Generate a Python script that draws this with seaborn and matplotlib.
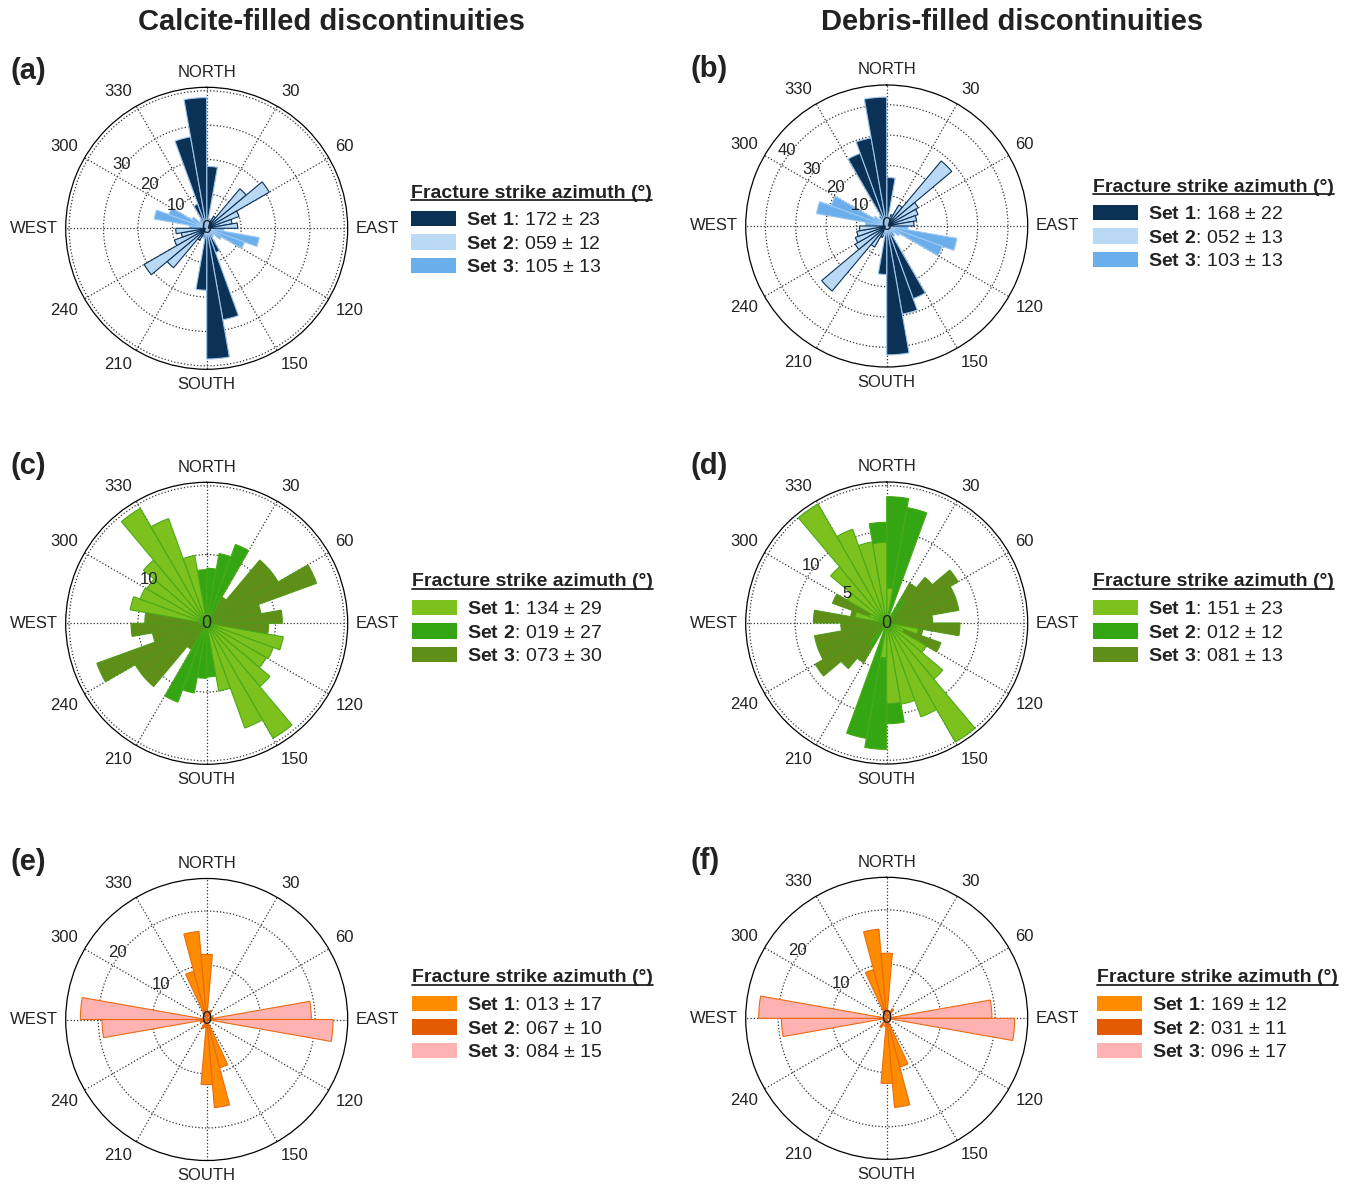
import numpy as np
import matplotlib.pyplot as plt
import seaborn as sns
from matplotlib.patches import Patch
from matplotlib.lines import Line2D

# strike bins (start angle, deg, 10 deg wide), mirrored to +180 when drawn
a_s1_deg = [0, 10, 140, 150, 160, 170]
a_s1_n = [18, 3, 3, 7.5, 27, 38]
a_s2_deg = [20, 30, 40, 50, 60, 70, 80]
a_s2_n = [2.5, 4, 15, 21, 10, 7.5, 9]
a_s3_deg = [90, 100, 110, 120, 130]
a_s3_n = [5, 15.5, 11.7, 5, 2.5]

b_s1_deg = [0, 10, 140, 150, 160, 170]
b_s1_n = [16, 3, 4, 25.5, 29.5, 42.5]
b_s2_deg = [20, 30, 40, 50, 60, 70, 80]
b_s2_n = [4, 8, 28, 12, 11, 10, 9]
b_s3_deg = [90, 100, 110, 120, 130]
b_s3_n = [7, 23.5, 19.5, 5, 3]

c_s1_deg = [100, 110, 120, 130, 140, 150, 160]
c_s1_n = [11.3, 10.3, 10, 12, 19.3, 16.2, 10]
c_s2_deg = [0, 10, 20, 170]
c_s2_n = [8, 10.3, 12.2, 7.8]
c_s3_deg = [30, 40, 50, 60, 70, 80, 90]
c_s3_n = [4.4, 12, 12, 17, 8, 11, 9]

d_s1_deg = [100, 110, 120, 130, 140, 150, 160, 170, 0]
d_s1_n = [3.5, 2, 5, 8, 15, 10.9, 9, 8.8, 3.8]
d_s2_deg = [0, 10, 170, 30]
d_s2_n = [13.8, 12.8, 11, 3]
d_s3_deg = [30, 40, 50, 60, 70, 80, 90, 100, 110]
d_s3_n = [5, 6.5, 9, 8, 8, 5, 8, 4, 6.3]

e_s1_deg = [335, 345, 355, 5]
e_s1_n = [9.2, 16.3, 12, 1.5]
e_s2_deg = [20, 60]
e_s2_n = [1.8, 1.2]
e_s3_deg = [80, 90]
e_s3_n = [19.3, 23.3]

f_s1_deg = [335, 345, 355, 5]
f_s1_n = [9.3, 16.5, 12, 1.5]
f_s2_deg = [30]
f_s2_n = [2]
f_s3_deg = [80, 90]
f_s3_n = [19.4, 23.6]

# legend text: mean strike +- spread
a_legend = ["172 ± 23", "059 ± 12", "105 ± 13"]
b_legend = ["168 ± 22", "052 ± 13", "103 ± 13"]
c_legend = ["134 ± 29", "019 ± 27", "073 ± 30"]
d_legend = ["151 ± 23", "012 ± 12", "081 ± 13"]
e_legend = ["013 ± 17", "067 ± 10", "084 ± 15"]
f_legend = ["169 ± 12", "031 ± 11", "096 ± 17"]

blues = ["#0B3157", "#B9D9F5", "#6BAEEC"]
blue_edges = ["#9CC3EA", "#0B3157", "#9CC8F0"]
greens = ["#7DC11F", "#34A513", "#5F8E19"]
green_edges = ["#4AAA16", "#4AAA16", "#4F9A16"]
oranges = ["#FF8C00", "#E35B03", "#FFB2B2"]
orange_edges = ["#EA6A10", "#EA6A10", "#EA6A10"]

sns.set_theme(style="white")
plt.rcParams["font.family"] = ["Liberation Sans", "DejaVu Sans"]
plt.rcParams["mathtext.fontset"] = "custom"
plt.rcParams["mathtext.rm"] = "Liberation Sans"
plt.rcParams["mathtext.bf"] = "Liberation Sans:bold"

W, H = 1349, 1185
fig = plt.figure(figsize=(W / 100, H / 100), dpi=100)
R = 141
TXT = "#222222"

panels = [
    ("(a)", (206.7, 228.3), 41, [10, 20, 30, 40], ["10", "20", "30", ""],
     [(a_s1_deg, a_s1_n), (a_s2_deg, a_s2_n), (a_s3_deg, a_s3_n)], blues, blue_edges, a_legend, (411, 193)),
    ("(b)", (886.7, 226.0), 46.5, [10, 20, 30, 40], ["10", "20", "30", "40"],
     [(b_s1_deg, b_s1_n), (b_s2_deg, b_s2_n), (b_s3_deg, b_s3_n)], blues, blue_edges, b_legend, (1093, 187)),
    ("(c)", (206.7, 623.3), 20.5, [10, 20], ["10", ""],
     [(c_s1_deg, c_s1_n), (c_s2_deg, c_s2_n), (c_s3_deg, c_s3_n)], greens, green_edges, c_legend, (412, 582)),
    ("(d)", (886.7, 623.0), 15.4, [5, 10, 15], ["5", "10", ""],
     [(d_s1_deg, d_s1_n), (d_s2_deg, d_s2_n), (d_s3_deg, d_s3_n)], greens, green_edges, d_legend, (1093, 582)),
    ("(e)", (206.7, 1019.5), 26, [10, 20], ["10", "20"],
     [(e_s1_deg, e_s1_n), (e_s2_deg, e_s2_n), (e_s3_deg, e_s3_n)], oranges, orange_edges, e_legend, (412, 978)),
    ("(f)", (886.7, 1018.3), 26, [10, 20], ["10", "20"],
     [(f_s1_deg, f_s1_n), (f_s2_deg, f_s2_n), (f_s3_deg, f_s3_n)], oranges, orange_edges, f_legend, (1097, 978)),
]

compass = {0: "NORTH", 90: "EAST", 180: "SOUTH", 270: "WEST"}
titles = []

for tag, (cx, cy), rmax, rings, ring_labels, sets, cols, edges, leg_txt, (lx, ty) in panels:
    ax = fig.add_axes([(cx - R) / W, (H - cy - R) / H, 2 * R / W, 2 * R / H], projection="polar")
    ax.set_theta_zero_location("N")
    ax.set_theta_direction(-1)
    ax.set_ylim(0, rmax)
    ax.set_yticks(rings)
    ax.set_yticklabels([])
    ax.set_xticks(np.deg2rad(np.arange(0, 360, 30)))
    ax.set_xticklabels([])
    ax.grid(True, linestyle=":", color="0.2", linewidth=0.9)
    ax.spines["polar"].set_color("black")
    ax.spines["polar"].set_linewidth(0.9)
    ax.set_facecolor("white")

    # set 3 underneath, set 1 on top
    for k in [2, 1, 0]:
        deg, n = sets[k]
        deg = np.asarray(deg, float)
        theta = np.deg2rad(np.concatenate([deg, deg + 180]))
        r = np.concatenate([n, n])
        ax.bar(theta, r, width=np.deg2rad(10), align="edge", color=cols[k],
               edgecolor=edges[k], linewidth=0.8, zorder=3 + (2 - k))

    # angle labels outside the rim
    for ang in range(0, 360, 30):
        s, c = np.sin(np.deg2rad(ang)), np.cos(np.deg2rad(ang))
        ha = "left" if s > 0.1 else ("right" if s < -0.1 else "center")
        va = "bottom" if c > 0.1 else ("top" if c < -0.1 else "center")
        ax.text(np.deg2rad(ang), rmax * 1.055, compass.get(ang, str(ang)),
                ha=ha, va=va, fontsize=12, color=TXT, clip_on=False)

    for rv, lab in zip(rings, ring_labels):
        if lab:
            ax.text(np.deg2rad(307), rv + rmax * 0.025, lab, ha="center", va="center",
                    fontsize=12, color=TXT, zorder=10)
    ax.text(0, 0, "0", ha="center", va="center", fontsize=13, color=TXT, zorder=10)

    fig.text(10 / W if tag in "(a)(c)(e)" else 691 / W, 1 - (cy - 157) / H, tag,
             fontsize=21, fontweight="bold", ha="left", va="center", color=TXT)

    # legend: underlined bold title, then the three sets
    titles.append(fig.text(lx / W, 1 - ty / H, "Fracture strike azimuth (°)", fontsize=14,
                           fontweight="bold", ha="left", va="center", color=TXT))
    handles = [Patch(facecolor=cols[k], edgecolor="none") for k in range(3)]
    labels = [r"$\mathbf{Set\ %d}$: %s" % (k + 1, leg_txt[k]) for k in range(3)]
    leg = fig.legend(handles, labels, loc="center left", bbox_to_anchor=(lx / W, 1 - (ty + 50.5) / H),
                     bbox_transform=fig.transFigure, frameon=False, fontsize=14,
                     handlelength=2.3, handleheight=0.85, handletextpad=0.55,
                     labelspacing=0.25, borderpad=0, borderaxespad=0)
    for t in leg.get_texts():
        t.set_color(TXT)

fig.text(331 / W, 1 - 22 / H, "Calcite-filled discontinuities", fontsize=21,
         fontweight="bold", ha="center", va="center", color=TXT)
fig.text(1012 / W, 1 - 22 / H, "Debris-filled discontinuities", fontsize=21,
         fontweight="bold", ha="center", va="center", color=TXT)

# underline the legend titles
fig.canvas.draw()
renderer = fig.canvas.get_renderer()
inv = fig.transFigure.inverted()
for t in titles:
    bb = t.get_window_extent(renderer)
    (x0, y0), (x1, _) = inv.transform([(bb.x0, bb.y0 + 1.5), (bb.x1, bb.y0)])
    fig.add_artist(Line2D([x0, x1], [y0, y0], transform=fig.transFigure, color=TXT, lw=1.3))

fig.savefig("out.png", dpi=100)
